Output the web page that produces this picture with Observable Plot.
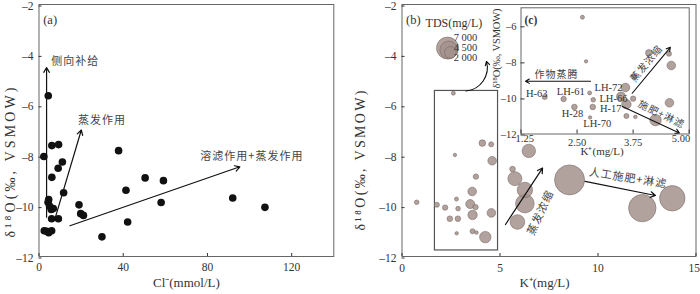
<!DOCTYPE html>
<html><head><meta charset="utf-8">
<script src="https://cdn.jsdelivr.net/npm/d3@7"></script>
<script src="https://cdn.jsdelivr.net/npm/@observablehq/plot@0.6"></script>
<style>
html,body{margin:0;padding:0;background:#fff;}
#wrap{position:relative;width:700px;height:294px;overflow:hidden;background:#fff;}
#wrap > svg, #wrap > div{position:absolute;}
</style></head><body><div id="wrap"></div>
<script>
// ---------- Panel (a): Cl- vs d18O ----------
const clA  = [2.3, 4.4, 6.1, 9.3, 9.1, 11.1, 6.1, 11.7, 4.6, 4.3, 5.0, 5.8, 6.8, 6.0, 9.2, 2.5, 3.6, 4.6, 6.0, 19.0, 19.8, 21.1, 29.9, 37.8, 41.3, 42.1, 50.4, 59.1, 58.0, 92.0, 107.3];
const d18A = [-8.03, -5.62, -7.6, -7.56, -8.5, -8.25, -8.86, -9.47, -9.74, -9.85, -10.0, -10.13, -10.1, -10.5, -10.5, -10.98, -11.0, -11.06, -10.98, -9.95, -10.3, -10.37, -11.22, -7.8, -9.37, -10.63, -8.88, -8.99, -9.86, -9.68, -10.05];
// ---------- Panel (b)/(c): K+ vs d18O, bubble = TDS ----------
const kB   = [0.75, 2.62, 4.1, 4.55, 2.7, 4.6, 3.77, 3.58, 1.78, 2.2, 2.78, 2.86, 3.48, 3.75, 3.6, 4.56, 2.44, 2.85, 2.79, 3.6, 3.8, 4.25, 6.47, 5.64, 5.76, 6.27, 6.27, 5.89, 8.55, 12.26, 13.79];
const d18B = [-9.85, -5.52, -7.5, -7.55, -7.97, -8.2, -8.83, -9.42, -9.95, -10.06, -9.72, -10.1, -9.92, -10.04, -10.35, -10.27, -10.5, -10.5, -11.08, -11.0, -11.05, -11.23, -7.81, -8.53, -8.91, -9.36, -9.9, -10.63, -8.96, -10.08, -9.69];
const tdsB = [306, 231, 630, 362, 167, 1070, 422, 1070, 362, 422, 231, 306, 1171, 422, 1278, 1070, 454, 454, 167, 362, 187, 1880, 2597, 454, 2835, 3430, 5003, 3083, 13016, 10858, 9330];
const tdsLegend = [7000, 4500, 2000];
const tdsLegendLabels = ["7 000", "4 500", "2 000"];
// ---------- ticks ----------
const xTicksA = [0, 40, 80, 120];
const xTicksB = [0, 5, 10, 15];
const yTicks  = [-12, -10, -8, -6, -4, -2];
const xTicksC = [1.25, 2.5, 3.75, 5];
const yTicksC = [-12, -10, -8, -6];
const insetLabels = ["H-63", "LH-61", "LH-72", "LH-66", "H-17", "H-28", "LH-70"];

// ---------- annotation placement (data coordinates) ----------
const arrowsA = [
  {x1: 3.6, y1: -10.44, x2: 3.6, y2: -4.5, label: "侧向补给", lx: 5.8, ly: -4.28},
  {x1: 7.6, y1: -10.5, x2: 20.1, y2: -6.98, label: "蒸发作用", lx: 18.5, ly: -6.59},
  {x1: 14.7, y1: -10.78, x2: 95.4, y2: -8.44, label: "溶滤作用+蒸发作用", lx: 76.6, ly: -8.02}
];
const boxB = [{x1: 1.68, x2: 4.9, y1: -11.76, y2: -5.43}];
const curveB = [{x1: 3.27, y1: -5.43, x2: 4.31, y2: -4.26}];
const arrowsB = [
  {x1: 5.28, y1: -10.73, x2: 7.17, y2: -8.49, label: "蒸发浓缩", lx: 7.07, ly: -10.26, rot: -65},
  {x1: 9.34, y1: -9.02, x2: 12.93, y2: -9.58, label: "人工施肥+淋滤", lx: 11.53, ly: -8.89, rot: 9}
];
const legendPos = {x: 2.63, y: -4.1, tx: 2.65, ty: -2.75, lx: 2.64, ly: [-3.31, -3.71, -4.11]};
const arrowsC = [
  {x1: 2.8, y1: -9.07, x2: 1.35, y2: -9.07, label: "作物蒸腾", lx: 2.04, ly: -8.74, rot: 0},
  {x1: 3.73, y1: -9.74, x2: 4.58, y2: -7.19, label: "蒸发浓缩", lx: 4.05, ly: -8.09, rot: -50},
  {x1: 3.51, y1: -10.48, x2: 4.78, y2: -11.94, label: "施肥+淋滤", lx: 4.38, ly: -10.92, rot: 26}
];
const insetLabelX = [1.6, 2.36, 3.2, 3.31, 3.25, 2.4, 2.95];
const insetLabelY = [-9.77, -9.63, -9.41, -10.02, -10.6, -10.86, -11.44];

const serif = "'Liberation Serif', 'Times New Roman', serif";
const cjk = "'Noto Sans CJK SC', sans-serif";
const dash = d => d < 0 ? "–" + Math.abs(d) : String(d);
const yLabel = "δ¹⁸O(‰, VSMOW)";
const W = document.getElementById("wrap");
const bubble = {fill: "#a3928d", fillOpacity: 0.85, stroke: "#7b6b67", strokeWidth: 0.6};
const rScale = {type: "sqrt", domain: [0, 7000], range: [0, 11]};
const css = size => `font-family: ${serif}; font-size: ${size}px; color: #333; background: transparent; overflow: visible;`;

function finish(svg, left, top, yLabLen) {
  svg.style.left = left + "px"; svg.style.top = top + "px";
  svg.querySelectorAll("text").forEach(t => {
    const s = t.textContent;
    if (/[\u4e00-\u9fff]/.test(s)) t.setAttribute("letter-spacing", "1");
    if (s === yLabel && yLabLen) { t.setAttribute("textLength", yLabLen); t.setAttribute("lengthAdjust", "spacing"); }
  });
  W.appendChild(svg);
}

// ---------- (a) ----------
const idxA = d3.range(clA.length);
const plotA = Plot.plot({
  width: 350, height: 294, marginLeft: 38.5, marginRight: 16.7, marginTop: 4, marginBottom: 38,
  style: css(11.5),
  x: {domain: [0, 140]}, y: {domain: [-12, -2]},
  marks: [
    Plot.frame({stroke: "#666"}),
    Plot.axisX({ticks: xTicksA, tickSize: -3, tickPadding: 9, label: null}),
    Plot.axisY({ticks: yTicks, tickSize: -3, tickPadding: 8.5, dy: 1.5, tickFormat: dash, label: null}),
    Plot.dot(idxA, {x: i => clA[i], y: i => d18A[i], r: 3.8, fill: "#111"}),
    Plot.arrow(arrowsA, {x1: "x1", y1: "y1", x2: "x2", y2: "y2", stroke: "#111", strokeWidth: 1.2, headLength: 7}),
    Plot.text(arrowsA, {x: "lx", y: "ly", text: "label", textAnchor: "start", fontFamily: cjk, fontSize: 11, fill: "#444"}),
    Plot.text(["(a)"], {text: d => d, frameAnchor: "top-left", dx: 4.2, dy: 11, textAnchor: "start", fontSize: 12.5, fill: "#333"}),
    Plot.text([yLabel], {text: d => d, frameAnchor: "left", dx: -28.5, dy: 107, rotate: -90, textAnchor: "start", fontSize: 14, fill: "#333"}),
    Plot.text(["Cl⁻(mmol/L)"], {text: d => d, frameAnchor: "bottom", dy: 30, fontSize: 13, fill: "#333"})
  ]
});
finish(plotA, 0, 0, 150);

// ---------- (b) ----------
const idxB = d3.range(kB.length);
const legendMarks = tdsLegend.map(v => {
  const rr = 11 * Math.sqrt(v / 7000);
  return Plot.dot([v], {x: () => legendPos.x, y: () => legendPos.y, r: d => d, dx: -0.55 * rr, dy: -0.85 * rr, ...bubble});
});
const plotB = Plot.plot({
  width: 350, height: 294, marginLeft: 51.5, marginRight: 4.5, marginTop: 4, marginBottom: 38,
  style: css(11.5),
  x: {domain: [0, 15]}, y: {domain: [-12, -2]}, r: rScale,
  marks: [
    Plot.frame({stroke: "#666"}),
    Plot.axisX({ticks: xTicksB, tickSize: -3, tickFormat: () => "", label: null}),
    Plot.text(xTicksB.slice(0, 3), {x: d => d, text: d => String(d), frameAnchor: "bottom", dy: 11.5, lineAnchor: "middle"}),
    Plot.text(xTicksB.slice(3), {x: d => d, text: d => String(d), frameAnchor: "bottom", dy: 11.5, dx: 4, textAnchor: "end", lineAnchor: "middle"}),
    Plot.axisY({ticks: yTicks, tickSize: -3, tickPadding: 8.5, dy: 1.5, tickFormat: dash, label: null}),
    Plot.rect(boxB, {x1: "x1", x2: "x2", y1: "y1", y2: "y2", fill: "none", stroke: "#555", strokeWidth: 1.2}),
    Plot.dot(idxB, {x: i => kB[i], y: i => d18B[i], r: i => tdsB[i], ...bubble}),
    Plot.arrow(curveB, {x1: "x1", y1: "y1", x2: "x2", y2: "y2", bend: -50, stroke: "#111", strokeWidth: 1.1, headLength: 6}),
    Plot.arrow(arrowsB, {x1: "x1", y1: "y1", x2: "x2", y2: "y2", stroke: "#111", strokeWidth: 1.2, headLength: 7}),
    Plot.text(arrowsB, {x: "lx", y: "ly", text: "label", rotate: "rot", fontFamily: cjk, fontSize: 11, fill: "#444"}),
    ...legendMarks,
    Plot.text(["TDS(mg/L)"], {text: d => d, x: () => legendPos.tx, y: () => legendPos.ty, fontSize: 12, fill: "#333"}),
    Plot.text(tdsLegendLabels, {text: d => d, x: () => legendPos.lx, y: (d, i) => legendPos.ly[i], textAnchor: "start", fontSize: 10.5, fill: "#333"}),
    Plot.text(["(b)"], {text: d => d, frameAnchor: "top-left", dx: 4, dy: 11, textAnchor: "start", fontSize: 12.5, fill: "#333"}),
    Plot.text([yLabel], {text: d => d, frameAnchor: "left", dx: -41.5, dy: 100, rotate: -90, textAnchor: "start", fontSize: 14, fill: "#333"}),
    Plot.text(["K⁺(mg/L)"], {text: d => d, frameAnchor: "bottom", dx: -4.5, dy: 30, fontSize: 13, fill: "#333"})
  ]
});
finish(plotB, 350, 0, 140);

// white backing for the inset
const bg = document.createElement("div");
Object.assign(bg.style, {left: "500px", top: "5px", width: "195px", height: "137px", background: "#fff"});
W.appendChild(bg);

// ---------- (c) inset ----------
const idxC = idxB.filter(i => kB[i] >= 1.25 && kB[i] <= 5);
const plotC = Plot.plot({
  width: 215, height: 165, marginLeft: 40.5, marginRight: 6.3, marginTop: 7.3, marginBottom: 31.5,
  style: css(10.5),
  x: {domain: [1.25, 5]}, y: {domain: [-12, -5]}, r: rScale,
  marks: [
    Plot.frame({stroke: "#666"}),
    Plot.axisX({ticks: xTicksC, tickSize: -4, tickFormat: () => "", label: null}),
    Plot.text(xTicksC.slice(1, 3), {x: d => d, text: d3.format(".2f"), frameAnchor: "bottom", dy: 8.2, lineAnchor: "middle", fontSize: 10.5}),
    Plot.text([xTicksC[0]], {x: d => d, text: d3.format(".2f"), frameAnchor: "bottom", dy: 8.2, dx: -5.5, textAnchor: "start", fontSize: 10.5}),
    Plot.text([xTicksC[3]], {x: d => d, text: d3.format(".2f"), frameAnchor: "bottom", dy: 8.2, dx: 1, textAnchor: "end", fontSize: 10.5}),
    Plot.axisY({ticks: yTicksC, tickSize: -4, tickPadding: 8.5, dy: 1, tickFormat: dash, label: null}),
    Plot.dot(idxC, {x: i => kB[i], y: i => d18B[i], r: i => tdsB[i], clip: true, ...bubble}),
    Plot.arrow(arrowsC, {x1: "x1", y1: "y1", x2: "x2", y2: "y2", stroke: "#111", strokeWidth: 1.1, headLength: 6}),
    Plot.text(arrowsC, {x: "lx", y: "ly", text: "label", rotate: "rot", fontFamily: cjk, fontSize: 10, fill: "#444"}),
    Plot.text(insetLabels, {text: d => d, x: (d, i) => insetLabelX[i], y: (d, i) => insetLabelY[i], fontSize: 10.5, fill: "#333"}),
    Plot.text(["(c)"], {text: d => d, frameAnchor: "top-left", dx: 3.5, dy: 7.7, textAnchor: "start", fontSize: 11.5, fontWeight: "bold", fill: "#333"}),
    Plot.text([yLabel], {text: d => d, frameAnchor: "left", dx: -24.5, dy: 17.6, rotate: -90, textAnchor: "start", fontSize: 10.5, fill: "#333"}),
    Plot.text(["K⁺(mg/L)"], {text: d => d, frameAnchor: "bottom", dx: -3, dy: 20.5, fontSize: 11, fill: "#333"})
  ]
});
finish(plotC, 480, 0, 80);
</script></body></html>
